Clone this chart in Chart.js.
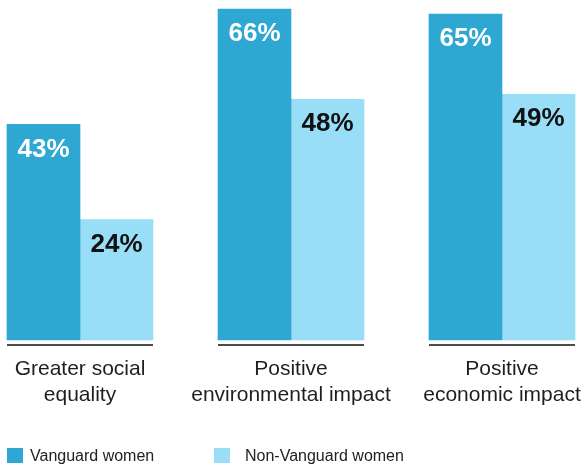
<!DOCTYPE html>
<html>
<head>
<meta charset="utf-8">
<script src="https://cdn.jsdelivr.net/npm/chart.js@4"></script>
<style>
  html, body { margin: 0; padding: 0; background: #fff; }
</style>
</head>
<body>
<canvas id="impactChart" width="587" height="466"></canvas>
<script>
const categories = [["Greater social", "equality"], ["Positive", "environmental impact"], ["Positive", "economic impact"]];
const vanguardWomen = [43, 66, 65];
const nonVanguardWomen = [24, 48, 49];
const seriesNames = ["Vanguard women", "Non-Vanguard women"];
const seriesColors = ["#2ea8d2", "#98def6"];
const valueColors = ["#ffffff", "#111111"];

const FONT = "'Liberation Sans', Arial, sans-serif";

// percent figures printed near the top of each bar
const valueLabels = {
  id: 'valueLabels',
  afterDatasetsDraw(chart) {
    const ctx = chart.ctx;
    ctx.save();
    ctx.font = "bold 26px " + FONT;
    ctx.textAlign = 'center';
    ctx.textBaseline = 'middle';
    chart.data.datasets.forEach((ds, di) => {
      const meta = chart.getDatasetMeta(di);
      ctx.fillStyle = valueColors[di];
      meta.data.forEach((bar, i) => {
        ctx.fillText(ds.data[i] + '%', bar.x, bar.y + 25);
      });
    });
    ctx.restore();
  }
};

// short rule under each pair of bars
const groupRules = {
  id: 'groupRules',
  afterDatasetsDraw(chart) {
    const ctx = chart.ctx;
    const first = chart.getDatasetMeta(0).data;
    const last = chart.getDatasetMeta(chart.data.datasets.length - 1).data;
    const y = chart.chartArea.bottom + 5;
    ctx.save();
    ctx.strokeStyle = '#111';
    ctx.lineWidth = 1.5;
    first.forEach((bar, i) => {
      const x0 = bar.x - bar.width / 2;
      const x1 = last[i].x + last[i].width / 2;
      ctx.beginPath();
      ctx.moveTo(x0, y);
      ctx.lineTo(x1, y);
      ctx.stroke();
    });
    ctx.restore();
  }
};

// legend row along the bottom edge
const bottomLegend = {
  id: 'bottomLegend',
  afterDraw(chart, args, opts) {
    const ctx = chart.ctx;
    ctx.save();
    ctx.font = "16px " + FONT;
    ctx.textBaseline = 'middle';
    ctx.textAlign = 'left';
    chart.data.datasets.forEach((ds, i) => {
      const item = opts.items[i];
      ctx.fillStyle = ds.backgroundColor;
      ctx.fillRect(item.box, opts.top, 16, 15);
      ctx.fillStyle = '#222';
      ctx.fillText(ds.label, item.text, opts.top + 9);
    });
    ctx.restore();
  }
};

new Chart(document.getElementById('impactChart'), {
  type: 'bar',
  data: {
    labels: categories,
    datasets: [
      { label: seriesNames[0], data: vanguardWomen, backgroundColor: seriesColors[0], barThickness: 73, clip: false },
      { label: seriesNames[1], data: nonVanguardWomen, backgroundColor: seriesColors[1], barThickness: 73, clip: false }
    ]
  },
  options: {
    responsive: false,
    animation: false,
    layout: { padding: { top: 0, right: 85, bottom: 0, left: 0 } },
    plugins: {
      legend: { display: false },
      tooltip: { enabled: false },
      bottomLegend: { top: 448, items: [{ box: 7, text: 30 }, { box: 214, text: 245 }] }
    },
    scales: {
      x: {
        offset: false,
        grid: { display: false, drawTicks: false },
        border: { display: false },
        ticks: {
          color: '#1f1f1f',
          font: { family: FONT, size: 21, lineHeight: 1.2 },
          padding: 17,
          maxRotation: 0,
          autoSkip: false
        },
        afterFit(scale) {
          // labels may overhang the plot edges; keep the plot width fixed
          scale.height = 126;
          scale.paddingLeft = 0;
          scale.paddingRight = 0;
        }
      },
      y: {
        min: 0,
        max: 67.8,
        grid: { display: false, drawTicks: false },
        border: { display: false },
        ticks: { display: false },
        afterFit(scale) { scale.width = 80; }
      }
    }
  },
  plugins: [valueLabels, groupRules, bottomLegend]
});
</script>
</body>
</html>
